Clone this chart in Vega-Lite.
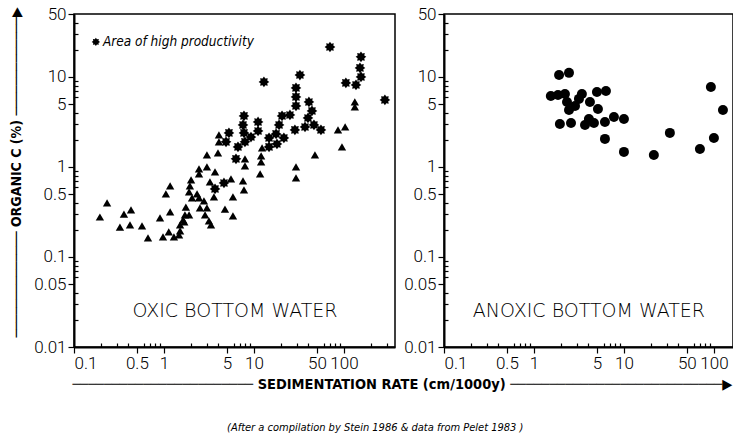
{
  "$schema": "https://vega.github.io/schema/vega-lite/v6.json",
  "padding": {"left": 8, "top": 1, "right": 0, "bottom": 5},
  "bounds": "flush",
  "spacing": 49,
  "config": {
    "view": {"stroke": "black", "strokeWidth": 1.5},
    "axis": {"grid": false, "domainColor": "black", "domainWidth": 2, "tickColor": "black", "tickWidth": 1.2, "labelColor": "black", "labelFont": "Roboto", "labelFontWeight": 300, "labelFontSize": 17, "titleColor": "black", "labelPadding": 2}
  },
  "title": {
    "text": "(After a compilation by Stein 1986 & data from Pelet 1983 )",
    "orient": "bottom",
    "anchor": "middle",
    "font": "DejaVu Sans Condensed",
    "fontStyle": "italic",
    "fontWeight": "normal",
    "fontSize": 11,
    "color": "black",
    "offset": 31
  },
  "hconcat": [
    {
      "width": 321,
      "height": 333,
      "data": {"values": [
        {"rate": 69.9, "corg": 21.5, "kind": "star"}, {"rate": 154.5, "corg": 16.7, "kind": "star"}, {"rate": 150.6, "corg": 12.6, "kind": "star"}, {"rate": 154.5, "corg": 10, "kind": "star"}, {"rate": 105, "corg": 8.58, "kind": "star"}, {"rate": 136, "corg": 8.15, "kind": "star"}, {"rate": 285, "corg": 5.55, "kind": "star"}, {"rate": 12.9, "corg": 8.8, "kind": "star"}, {"rate": 32.4, "corg": 10.5, "kind": "star"}, {"rate": 29.3, "corg": 7.55, "kind": "star"}, {"rate": 29.3, "corg": 6.0, "kind": "star"}, {"rate": 29.3, "corg": 4.76, "kind": "star"}, {"rate": 40.8, "corg": 5.27, "kind": "star"}, {"rate": 44.1, "corg": 4.19, "kind": "star"}, {"rate": 39.8, "corg": 3.5, "kind": "star"}, {"rate": 46.4, "corg": 2.93, "kind": "star"}, {"rate": 36.9, "corg": 2.78, "kind": "star"}, {"rate": 55.5, "corg": 2.58, "kind": "star"}, {"rate": 28.5, "corg": 2.58, "kind": "star"}, {"rate": 25.1, "corg": 3.78, "kind": "star"}, {"rate": 20.5, "corg": 3.69, "kind": "star"}, {"rate": 19.0, "corg": 2.93, "kind": "star"}, {"rate": 17.6, "corg": 2.33, "kind": "star"}, {"rate": 21.5, "corg": 2.1, "kind": "star"}, {"rate": 18.0, "corg": 1.8, "kind": "star"}, {"rate": 14.7, "corg": 2.1, "kind": "star"}, {"rate": 14.7, "corg": 1.67, "kind": "star"}, {"rate": 11.1, "corg": 3.16, "kind": "star"}, {"rate": 11.1, "corg": 2.51, "kind": "star"}, {"rate": 9.26, "corg": 2.15, "kind": "star"}, {"rate": 7.74, "corg": 3.69, "kind": "star"}, {"rate": 7.55, "corg": 2.93, "kind": "star"}, {"rate": 7.74, "corg": 2.39, "kind": "star"}, {"rate": 7.94, "corg": 1.9, "kind": "star"}, {"rate": 6.64, "corg": 1.67, "kind": "star"}, {"rate": 5.27, "corg": 2.39, "kind": "star"}, {"rate": 4.89, "corg": 1.9, "kind": "star"}, {"rate": 6.31, "corg": 1.23, "kind": "star"}, {"rate": 4.64, "corg": 0.664, "kind": "star"}, {"rate": 3.69, "corg": 0.57, "kind": "star"},
        {"rate": 85.8, "corg": 2.58, "kind": "tri"}, {"rate": 103, "corg": 2.78, "kind": "tri"}, {"rate": 95, "corg": 1.67, "kind": "tri"}, {"rate": 132, "corg": 5.27, "kind": "tri"}, {"rate": 132, "corg": 4.64, "kind": "tri"}, {"rate": 12.3, "corg": 1.63, "kind": "tri"}, {"rate": 4.08, "corg": 2.27, "kind": "tri"}, {"rate": 4.08, "corg": 1.9, "kind": "tri"},
        {"rate": 0.233, "corg": 0.398, "kind": "tri"}, {"rate": 0.194, "corg": 0.278, "kind": "tri"}, {"rate": 0.359, "corg": 0.3, "kind": "tri"}, {"rate": 0.43, "corg": 0.333, "kind": "tri"}, {"rate": 0.324, "corg": 0.215, "kind": "tri"}, {"rate": 0.419, "corg": 0.227, "kind": "tri"}, {"rate": 0.57, "corg": 0.221, "kind": "tri"}, {"rate": 0.664, "corg": 0.163, "kind": "tri"}, {"rate": 0.903, "corg": 0.271, "kind": "tri"}, {"rate": 0.975, "corg": 0.167, "kind": "tri"}, {"rate": 1.13, "corg": 0.19, "kind": "tri"}, {"rate": 1.29, "corg": 0.167, "kind": "tri"}, {"rate": 1.47, "corg": 0.176, "kind": "tri"}, {"rate": 1.51, "corg": 0.195, "kind": "tri"}, {"rate": 1.51, "corg": 0.227, "kind": "tri"}, {"rate": 1.63, "corg": 0.258, "kind": "tri"}, {"rate": 1.9, "corg": 0.293, "kind": "tri"}, {"rate": 1.75, "corg": 0.359, "kind": "tri"}, {"rate": 1.17, "corg": 0.316, "kind": "tri"}, {"rate": 1.05, "corg": 0.501, "kind": "tri"}, {"rate": 1.17, "corg": 0.615, "kind": "tri"}, {"rate": 2.0, "corg": 0.717, "kind": "tri"}, {"rate": 1.94, "corg": 0.615, "kind": "tri"}, {"rate": 1.9, "corg": 0.527, "kind": "tri"}, {"rate": 2.05, "corg": 0.453, "kind": "tri"}, {"rate": 2.45, "corg": 0.453, "kind": "tri"}, {"rate": 2.78, "corg": 0.419, "kind": "tri"}, {"rate": 2.51, "corg": 0.35, "kind": "tri"}, {"rate": 3.0, "corg": 0.35, "kind": "tri"}, {"rate": 2.86, "corg": 0.293, "kind": "tri"}, {"rate": 3.16, "corg": 0.251, "kind": "tri"}, {"rate": 3.33, "corg": 0.227, "kind": "tri"}, {"rate": 3.59, "corg": 0.464, "kind": "tri"}, {"rate": 3.24, "corg": 0.681, "kind": "tri"}, {"rate": 3.69, "corg": 0.88, "kind": "tri"}, {"rate": 3.0, "corg": 1.0, "kind": "tri"}, {"rate": 2.45, "corg": 0.95, "kind": "tri"}, {"rate": 2.45, "corg": 0.836, "kind": "tri"}, {"rate": 3.0, "corg": 1.36, "kind": "tri"}, {"rate": 3.98, "corg": 1.43, "kind": "tri"}, {"rate": 4.76, "corg": 0.341, "kind": "tri"}, {"rate": 5.84, "corg": 0.286, "kind": "tri"}, {"rate": 5.84, "corg": 0.464, "kind": "tri"}, {"rate": 5.55, "corg": 0.736, "kind": "tri"}, {"rate": 7.55, "corg": 0.699, "kind": "tri"}, {"rate": 7.74, "corg": 0.556, "kind": "tri"}, {"rate": 7.94, "corg": 1.23, "kind": "tri"}, {"rate": 7.94, "corg": 1.03, "kind": "tri"}, {"rate": 11.7, "corg": 0.836, "kind": "tri"}, {"rate": 12.0, "corg": 1.14, "kind": "tri"}, {"rate": 12.0, "corg": 1.33, "kind": "tri"}, {"rate": 29.3, "corg": 1.0, "kind": "tri"}, {"rate": 29.3, "corg": 0.755, "kind": "tri"}, {"rate": 47.6, "corg": 1.36, "kind": "tri"}, {"rate": 1.71, "corg": 0.293, "kind": "tri"}, {"rate": 1.68, "corg": 0.245, "kind": "tri"}, {"rate": 2.33, "corg": 0.501, "kind": "tri"}
      ]},
      "resolve": {"axis": {"x": "independent", "y": "independent"}},
      "layer": [
        {
          "mark": {"type": "point", "filled": true, "opacity": 1, "color": "black"},
          "encoding": {
            "x": {"field": "rate", "type": "quantitative", "scale": {"type": "log", "domain": [0.1, 369], "nice": false}, "axis": {"orient": "bottom", "values": [0.1, 0.5, 1, 5, 10, 50, 100], "format": "~g", "tickSize": 6, "title": "───────────────────────  SEDIMENTATION RATE (cm/1000y)  ───────────────────────────▶", "titleFont": "DejaVu Sans Condensed", "titleFontWeight": "bold", "titleFontSize": 14.5, "titleAnchor": "start", "titleAlign": "left", "titleBaseline": "middle", "titleX": -2, "titleY": 37}},
            "y": {"field": "corg", "type": "quantitative", "scale": {"type": "log", "domain": [0.01, 50], "nice": false}, "axis": {"orient": "left", "values": [0.01, 0.05, 0.1, 0.5, 1, 5, 10, 50], "format": "~g", "tickSize": 6, "title": "──────────────  ORGANIC C (%)  ─────────────▶", "titleFont": "DejaVu Sans Condensed", "titleFontWeight": "bold", "titleFontSize": 14, "titlePadding": 10, "titleY": 158}},
            "shape": {"field": "kind", "type": "nominal", "scale": {"domain": ["tri", "star"], "range": ["triangle-up", "M1,0L0.62,0.26L0.707,0.707L0.26,0.62L0,1L-0.26,0.62L-0.707,0.707L-0.62,0.26L-1,0L-0.62,-0.26L-0.707,-0.707L-0.26,-0.62L0,-1L0.26,-0.62L0.707,-0.707L0.62,-0.26Z"]}, "legend": null},
            "size": {"field": "kind", "type": "nominal", "scale": {"domain": ["tri", "star"], "range": [70, 115]}, "legend": null}
          }
        },
        {
          "mark": {"type": "point", "opacity": 0},
          "encoding": {
            "x": {"field": "rate", "type": "quantitative", "axis": {"orient": "bottom", "values": [0.2, 0.3, 0.4, 0.6, 0.7, 0.8, 0.9, 2, 3, 4, 6, 7, 8, 9, 20, 30, 40, 60, 70, 80, 90, 200, 300], "labels": false, "domain": false, "tickSize": -4, "title": null}},
            "y": {"field": "corg", "type": "quantitative", "axis": {"orient": "left", "values": [0.02, 0.03, 0.04, 0.06, 0.07, 0.08, 0.09, 0.2, 0.3, 0.4, 0.6, 0.7, 0.8, 0.9, 2, 3, 4, 6, 7, 8, 9, 20, 30, 40], "labels": false, "domain": false, "tickSize": -4, "title": null}}
          }
        },
        {
          "data": {"values": [{}]},
          "mark": {"type": "point", "filled": true, "opacity": 1, "color": "black", "size": 70, "shape": "M1,0L0.62,0.26L0.707,0.707L0.26,0.62L0,1L-0.26,0.62L-0.707,0.707L-0.62,0.26L-1,0L-0.62,-0.26L-0.707,-0.707L-0.26,-0.62L0,-1L0.26,-0.62L0.707,-0.707L0.62,-0.26Z"},
          "encoding": {"x": {"datum": 0.175, "type": "quantitative", "axis": null}, "y": {"datum": 24.5, "type": "quantitative", "axis": null}}
        },
        {
          "data": {"values": [{}]},
          "mark": {"type": "text", "align": "left", "baseline": "middle", "font": "DejaVu Sans Condensed", "fontStyle": "italic", "fontSize": 13.5, "color": "black"},
          "encoding": {"x": {"datum": 0.21, "type": "quantitative", "axis": null}, "y": {"datum": 24.5, "type": "quantitative", "axis": null}, "text": {"value": "Area of high productivity"}}
        },
        {
          "data": {"values": [{}]},
          "mark": {"type": "text", "align": "center", "baseline": "middle", "font": "DejaVu Sans", "fontWeight": 200, "fontSize": 19, "color": "black"},
          "encoding": {"x": {"datum": 6.15, "type": "quantitative", "axis": null}, "y": {"datum": 0.025, "type": "quantitative", "axis": null}, "text": {"value": "OXIC BOTTOM WATER"}}
        }
      ]
    },
    {
      "width": 289,
      "height": 333,
      "data": {"values": [
        {"rate": 1.9, "corg": 10.5}, {"rate": 2.45, "corg": 11.1}, {"rate": 1.54, "corg": 6.15}, {"rate": 1.85, "corg": 6.31}, {"rate": 2.21, "corg": 6.47}, {"rate": 2.33, "corg": 5.27}, {"rate": 2.45, "corg": 4.3}, {"rate": 2.86, "corg": 4.76}, {"rate": 3.16, "corg": 5.7}, {"rate": 3.41, "corg": 6.47}, {"rate": 4.19, "corg": 5.27}, {"rate": 5.14, "corg": 4.41}, {"rate": 5.01, "corg": 6.81}, {"rate": 6.31, "corg": 6.99}, {"rate": 1.94, "corg": 3.0}, {"rate": 2.58, "corg": 3.08}, {"rate": 3.69, "corg": 2.93}, {"rate": 4.08, "corg": 3.41}, {"rate": 4.64, "corg": 3.08}, {"rate": 6.15, "corg": 3.16}, {"rate": 7.74, "corg": 3.59}, {"rate": 10, "corg": 3.41}, {"rate": 6.15, "corg": 2.05}, {"rate": 10, "corg": 1.47}, {"rate": 21.5, "corg": 1.36}, {"rate": 32.4, "corg": 2.39}, {"rate": 69.9, "corg": 1.58}, {"rate": 92.6, "corg": 7.74}, {"rate": 100, "corg": 2.1}, {"rate": 126, "corg": 4.3}
      ]},
      "resolve": {"axis": {"x": "independent", "y": "independent"}},
      "layer": [
        {
          "mark": {"type": "circle", "opacity": 1, "color": "black", "size": 100},
          "encoding": {
            "x": {"field": "rate", "type": "quantitative", "scale": {"type": "log", "domain": [0.1, 163], "nice": false}, "axis": {"orient": "bottom", "values": [0.1, 0.5, 1, 5, 10, 50, 100], "format": "~g", "tickSize": 6, "title": null}},
            "y": {"field": "corg", "type": "quantitative", "scale": {"type": "log", "domain": [0.01, 50], "nice": false}, "axis": {"orient": "left", "values": [0.01, 0.05, 0.1, 0.5, 1, 5, 10, 50], "format": "~g", "tickSize": 6, "title": null}}
          }
        },
        {
          "mark": {"type": "point", "opacity": 0},
          "encoding": {
            "x": {"field": "rate", "type": "quantitative", "axis": {"orient": "bottom", "values": [0.2, 0.3, 0.4, 0.6, 0.7, 0.8, 0.9, 2, 3, 4, 6, 7, 8, 9, 20, 30, 40, 60, 70, 80, 90], "labels": false, "domain": false, "tickSize": -4, "title": null}},
            "y": {"field": "corg", "type": "quantitative", "axis": {"orient": "left", "values": [0.02, 0.03, 0.04, 0.06, 0.07, 0.08, 0.09, 0.2, 0.3, 0.4, 0.6, 0.7, 0.8, 0.9, 2, 3, 4, 6, 7, 8, 9, 20, 30, 40], "labels": false, "domain": false, "tickSize": -4, "title": null}}
          }
        },
        {
          "data": {"values": [{}]},
          "mark": {"type": "text", "align": "center", "baseline": "middle", "font": "DejaVu Sans", "fontWeight": 200, "fontSize": 19, "color": "black"},
          "encoding": {"x": {"datum": 4.08, "type": "quantitative", "axis": null}, "y": {"datum": 0.025, "type": "quantitative", "axis": null}, "text": {"value": "ANOXIC BOTTOM WATER"}}
        }
      ]
    }
  ]
}
